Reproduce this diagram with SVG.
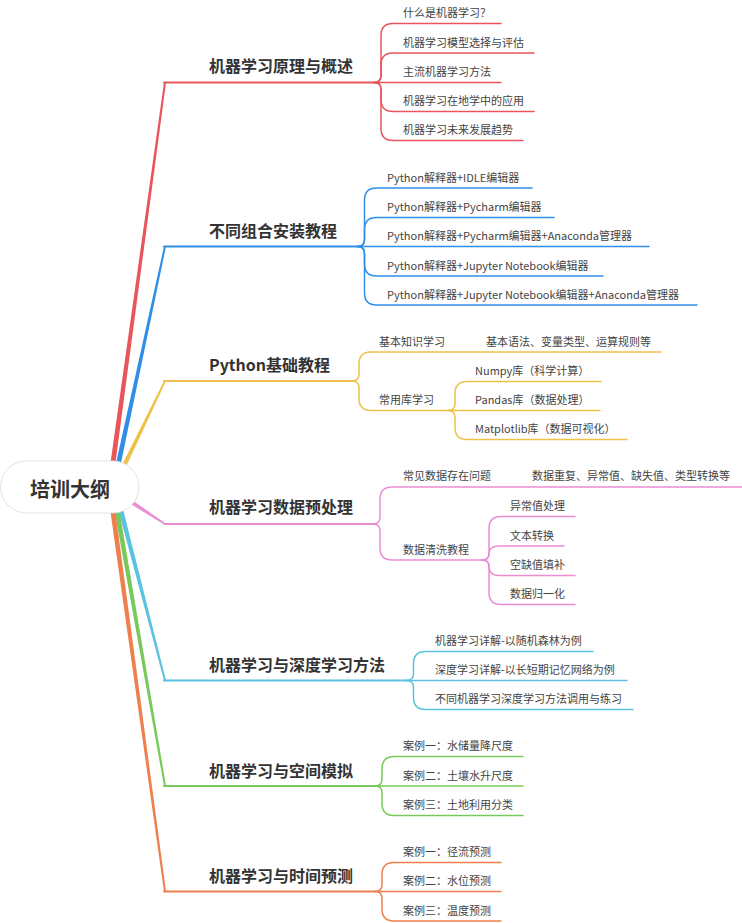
<svg xmlns="http://www.w3.org/2000/svg" width="742" height="923" viewBox="0 0 742 923">
<style>
text{font-family:"Noto Sans CJK SC","Noto Sans",sans-serif}
.lbl{font-size:16px;font-weight:700;fill:#333}
.t{font-size:11px;fill:#444}
.rt{font-size:20px;font-weight:700;fill:#333}
.ln{fill:none;stroke-linecap:round;stroke-linejoin:round}
.m{stroke-width:2}
.s{stroke-width:1.5}
.red{stroke:#E9555C}.redf{fill:#E9555C}
.blue{stroke:#2F8FE6}.bluef{fill:#2F8FE6}
.yel{stroke:#EEC24A}.yelf{fill:#EEC24A}
.pink{stroke:#EB8DD3}.pinkf{fill:#EB8DD3}
.cyan{stroke:#5BC2E2}.cyanf{fill:#5BC2E2}
.grn{stroke:#78C95C}.grnf{fill:#78C95C}
.org{stroke:#EE7F4F}.orgf{fill:#EE7F4F}
</style>
<rect width="742" height="923" fill="#fff"/>
<g id="connectors">
  <!-- root to branches (tapered) -->
  <polygon class="redf" points="109.5,470 114.5,470 166,82.5 164,82.5"/>
  <polygon class="bluef" points="114.5,470 119.5,470 166,246.5 164,246.5"/>
  <polygon class="yelf" points="119.5,470 124.5,470 166,381 164,381"/>
  <polygon class="pinkf" points="124,494.5 124,500 165,525 165,523"/>
  <polygon class="cyanf" points="117,505 122,505 166,680.5 164,680.5"/>
  <polygon class="grnf" points="113.5,505 118.5,505 166,786 164,786"/>
  <polygon class="orgf" points="109.5,505 114.5,505 166,891.5 164,891.5"/>
  <!-- main horizontals -->
  <path class="ln m red" d="M164,82.5 H374"/>
  <path class="ln m blue" d="M164,246.5 H357.5"/>
  <path class="ln m yel" d="M164,381 H352"/>
  <path class="ln m pink" d="M164,524 H373"/>
  <path class="ln m cyan" d="M164,680.5 H406.5"/>
  <path class="ln m grn" d="M164,786 H375"/>
  <path class="ln m org" d="M164,891.5 H375"/>
  <!-- branch 1 children -->
  <path class="ln s red" d="M374,82.5 Q381,82.5 381,75.5 V35.5 Q381,23.5 393,23.5 H501"/>
  <path class="ln s red" d="M374,82.5 Q381,82.5 381,75.5 V65 Q381,53 393,53 H534"/>
  <path class="ln s red" d="M374,82.5 H501"/>
  <path class="ln s red" d="M374,82.5 Q381,82.5 381,89.5 V99.5 Q381,111.5 393,111.5 H534"/>
  <path class="ln s red" d="M374,82.5 Q381,82.5 381,89.5 V128.5 Q381,140.5 393,140.5 H523"/>
  <!-- branch 2 children -->
  <path class="ln s blue" d="M357.5,246.5 Q364.5,246.5 364.5,239.5 V200 Q364.5,188 376.5,188 H532"/>
  <path class="ln s blue" d="M357.5,246.5 Q364.5,246.5 364.5,239.5 V229.5 Q364.5,217.5 376.5,217.5 H554"/>
  <path class="ln s blue" d="M357.5,246.5 H649"/>
  <path class="ln s blue" d="M357.5,246.5 Q364.5,246.5 364.5,253.5 V264 Q364.5,276 376.5,276 H603"/>
  <path class="ln s blue" d="M357.5,246.5 Q364.5,246.5 364.5,253.5 V293 Q364.5,305 376.5,305 H697"/>
  <!-- branch 3 children -->
  <path class="ln s yel" d="M352,381 Q359,381 359,374 V364 Q359,352 371,352 H661"/>
  <path class="ln s yel" d="M352,381 Q359,381 359,388 V398.5 Q359,410.5 371,410.5 H448"/>
  <path class="ln s yel" d="M448,410.5 Q455,410.5 455,403.5 V393.5 Q455,381.5 467,381.5 H601"/>
  <path class="ln s yel" d="M448,410.5 H600"/>
  <path class="ln s yel" d="M448,410.5 Q455,410.5 455,417.5 V427.5 Q455,439.5 467,439.5 H627"/>
  <!-- branch 4 children -->
  <path class="ln s pink" d="M373,524 Q380,524 380,517 V499 Q380,487 392,487 H742"/>
  <path class="ln s pink" d="M373,524 Q380,524 380,531 V548 Q380,560 392,560 H482"/>
  <path class="ln s pink" d="M482,560 Q489,560 489,553 V528.5 Q489,516.5 501,516.5 H575"/>
  <path class="ln s pink" d="M482,560 Q489,560 489,554 Q489,546 499,546 H564"/>
  <path class="ln s pink" d="M482,560 Q489,560 489,566 Q489,575.5 499,575.5 H575"/>
  <path class="ln s pink" d="M482,560 Q489,560 489,567 V592.5 Q489,604.5 501,604.5 H575"/>
  <!-- branch 5 children -->
  <path class="ln s cyan" d="M406.5,680.5 Q413.5,680.5 413.5,673.5 V663.5 Q413.5,651.5 425.5,651.5 H593"/>
  <path class="ln s cyan" d="M406.5,680.5 H627"/>
  <path class="ln s cyan" d="M406.5,680.5 Q413.5,680.5 413.5,687.5 V697.5 Q413.5,709.5 425.5,709.5 H633"/>
  <!-- branch 6 children -->
  <path class="ln s grn" d="M375,786 Q382,786 382,779 V768.5 Q382,756.5 394,756.5 H523"/>
  <path class="ln s grn" d="M375,786 H523"/>
  <path class="ln s grn" d="M375,786 Q382,786 382,793 V803.5 Q382,815.5 394,815.5 H523"/>
  <!-- branch 7 children -->
  <path class="ln s org" d="M375,891.5 Q382,891.5 382,884.5 V874.5 Q382,862.5 394,862.5 H501"/>
  <path class="ln s org" d="M375,891.5 H501"/>
  <path class="ln s org" d="M375,891.5 Q382,891.5 382,898.5 V909 Q382,921 394,921 H501"/>
</g>
<g id="root">
  <rect x="0.5" y="461" width="138.5" height="52" rx="26" fill="#fff" stroke="#e2e2e2"/>
  <text class="rt" x="70" y="496.5" text-anchor="middle">培训大纲</text>
</g>
<g id="b1"><text class="lbl" x="209" y="72">机器学习原理与概述</text></g>
<g id="b1c1"><text class="t" x="403" y="17.2">什么是机器学习？</text></g>
<g id="b1c2"><text class="t" x="403" y="46.7">机器学习模型选择与评估</text></g>
<g id="b1c3"><text class="t" x="403" y="76.2">主流机器学习方法</text></g>
<g id="b1c4"><text class="t" x="403" y="105.2">机器学习在地学中的应用</text></g>
<g id="b1c5"><text class="t" x="403" y="134.2">机器学习未来发展趋势</text></g>

<g id="b2"><text class="lbl" x="209" y="237">不同组合安装教程</text></g>
<g id="b2c1"><text class="t" x="387" y="181.7">Python解释器+IDLE编辑器</text></g>
<g id="b2c2"><text class="t" x="387" y="211.2">Python解释器+Pycharm编辑器</text></g>
<g id="b2c3"><text class="t" x="387" y="240.2">Python解释器+Pycharm编辑器+Anaconda管理器</text></g>
<g id="b2c4"><text class="t" x="387" y="269.7">Python解释器+Jupyter Notebook编辑器</text></g>
<g id="b2c5"><text class="t" x="387" y="298.7">Python解释器+Jupyter Notebook编辑器+Anaconda管理器</text></g>

<g id="b3"><text class="lbl" x="209" y="371">Python基础教程</text></g>
<g id="b3c1"><text class="t" x="379" y="345.7">基本知识学习</text></g>
<g id="b3c1a"><text class="t" x="486" y="345.7">基本语法、变量类型、运算规则等</text></g>
<g id="b3c2"><text class="t" x="379" y="404.2">常用库学习</text></g>
<g id="b3c2a"><text class="t" x="475" y="375.2">Numpy库（科学计算）</text></g>
<g id="b3c2b"><text class="t" x="475" y="404.2">Pandas库（数据处理）</text></g>
<g id="b3c2c"><text class="t" x="475" y="433.2">Matplotlib库（数据可视化）</text></g>

<g id="b4"><text class="lbl" x="209" y="513">机器学习数据预处理</text></g>
<g id="b4c1"><text class="t" x="403" y="480.2">常见数据存在问题</text></g>
<g id="b4c1a"><text class="t" x="532" y="480.2">数据重复、异常值、缺失值、类型转换等</text></g>
<g id="b4c2"><text class="t" x="403" y="553.7">数据清洗教程</text></g>
<g id="b4c2a"><text class="t" x="510" y="510.2">异常值处理</text></g>
<g id="b4c2b"><text class="t" x="510" y="539.7">文本转换</text></g>
<g id="b4c2c"><text class="t" x="510" y="569.2">空缺值填补</text></g>
<g id="b4c2d"><text class="t" x="510" y="598.2">数据归一化</text></g>

<g id="b5"><text class="lbl" x="209" y="671">机器学习与深度学习方法</text></g>
<g id="b5c1"><text class="t" x="435" y="645.2">机器学习详解-以随机森林为例</text></g>
<g id="b5c2"><text class="t" x="435" y="674.2">深度学习详解-以长短期记忆网络为例</text></g>
<g id="b5c3"><text class="t" x="435" y="703.2">不同机器学习深度学习方法调用与练习</text></g>

<g id="b6"><text class="lbl" x="209" y="776.5">机器学习与空间模拟</text></g>
<g id="b6c1"><text class="t" x="403" y="750.2">案例一：水储量降尺度</text></g>
<g id="b6c2"><text class="t" x="403" y="779.7">案例二：土壤水升尺度</text></g>
<g id="b6c3"><text class="t" x="403" y="809.2">案例三：土地利用分类</text></g>

<g id="b7"><text class="lbl" x="209" y="882">机器学习与时间预测</text></g>
<g id="b7c1"><text class="t" x="403" y="856.2">案例一：径流预测</text></g>
<g id="b7c2"><text class="t" x="403" y="885.2">案例二：水位预测</text></g>
<g id="b7c3"><text class="t" x="403" y="914.7">案例三：温度预测</text></g>
</svg>
